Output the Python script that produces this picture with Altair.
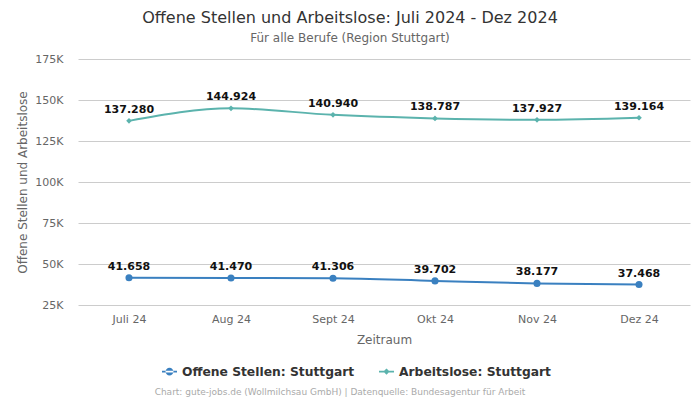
import altair as alt
import pandas as pd

months = ["Juli 24", "Aug 24", "Sept 24", "Okt 24", "Nov 24", "Dez 24"]
offene = [41658, 41470, 41306, 39702, 38177, 37468]
arbeitslose = [137280, 144924, 140940, 138787, 137927, 139164]
series = ["Offene Stellen: Stuttgart", "Arbeitslose: Stuttgart"]
colors = ["#3a80c0", "#5bb3ad"]

rows = []
for m, v in zip(months, offene):
    rows.append({"Monat": m, "Wert": v, "Serie": series[0]})
for m, v in zip(months, arbeitslose):
    rows.append({"Monat": m, "Wert": v, "Serie": series[1]})
df = pd.DataFrame(rows)

FONT = "DejaVu Sans"
W, H = 612, 246

x = alt.X("Monat:N", sort=months, scale=alt.Scale(type="point", padding=0.5),
          axis=alt.Axis(title="Zeitraum", labelAngle=0, ticks=False, domain=False,
                        labelPadding=8, titlePadding=10, labelColor="#666", titleColor="#666",
                        labelFontSize=11, titleFontSize=12, titleFontWeight="normal", grid=False))
y = alt.Y("Wert:Q", scale=alt.Scale(domain=[25000, 175000], nice=False, zero=False),
          axis=alt.Axis(title="Offene Stellen und Arbeitslose", values=[25000, 50000, 75000, 100000, 125000, 150000, 175000],
                        labelExpr="datum.value/1000 + 'K'", ticks=False, domain=False,
                        labelPadding=15, titlePadding=5, labelColor="#666", titleColor="#666",
                        labelFontSize=11, titleFontSize=12, titleFontWeight="normal",
                        gridColor="#cccccc", gridWidth=1))

circ_path = "M-1,-0.13 L1,-0.13 L1,0.13 L-1,0.13 Z M-0.53,0 A0.53,0.53 0 1,0 0.53,0 A0.53,0.53 0 1,0 -0.53,0 Z"
diam_path = "M-1,-0.13 L1,-0.13 L1,0.13 L-1,0.13 Z M0,-0.42 L0.42,0 L0,0.42 L-0.42,0 Z"

legend = alt.Legend(title=None, orient="none", direction="horizontal",
                    legendX=84, legendY=305, symbolSize=225, symbolOpacity=1,
                    symbolStrokeWidth=0, labelFont=FONT, labelFontSize=12.3,
                    labelFontWeight="bold", labelColor="#333", columnPadding=24,
                    labelOffset=5, labelLimit=400)
color = alt.Color("Serie:N", scale=alt.Scale(domain=series, range=colors), legend=legend)

base = alt.Chart(df)

lines = base.mark_line(strokeWidth=2, interpolate="monotone").encode(x=x, y=y, color=color)

pts_blue = base.transform_filter(alt.datum.Serie == series[0]).mark_point(
    filled=True, shape="circle", size=50, opacity=1).encode(x=x, y=y, color=color)
pts_teal = base.transform_filter(alt.datum.Serie == series[1]).mark_point(
    filled=True, shape="diamond", size=32, opacity=1).encode(x=x, y=y, color=color)

labels = base.transform_calculate(
    lab="replace(format(datum.Wert, ','), ',', '.')"
).mark_text(font=FONT, fontSize=11, fontWeight="bold", color="#111", dy=-6, baseline="bottom").encode(
    x=x, y=y, text="lab:N")

legend_layer = base.mark_point(filled=True, opacity=0, size=1).encode(
    x=x, y=y, color=color,
    shape=alt.Shape("Serie:N", scale=alt.Scale(domain=series, range=[circ_path, diam_path]), legend=legend)
)

footer = alt.Chart(pd.DataFrame({"t": ["Chart: gute-jobs.de (Wollmilchsau GmbH) | Datenquelle: Bundesagentur für Arbeit"]})).mark_text(
    font=FONT, fontSize=9, color="#aaa", align="center", baseline="middle").encode(
    x=alt.value(262), y=alt.value(333), text="t:N")

chart = alt.layer(lines, pts_blue, pts_teal, labels, legend_layer, footer).properties(
    width=W, height=H,
    title=alt.TitleParams(text="Offene Stellen und Arbeitslose: Juli 2024 - Dez 2024",
                          subtitle="Für alle Berufe (Region Stuttgart)",
                          font=FONT, fontSize=16, fontWeight="normal", color="#333",
                          subtitleFont=FONT, subtitleFontSize=12, subtitleColor="#666",
                          anchor="middle", dx=-34, offset=9, subtitlePadding=7),
    autosize=alt.AutoSizeParams(type="none"),
    padding={"left": 70, "top": 51, "right": 2, "bottom": 100}
).configure(font=FONT).configure_view(stroke=None)

chart.save("out.html", embed_options={"renderer": "svg", "actions": False})
